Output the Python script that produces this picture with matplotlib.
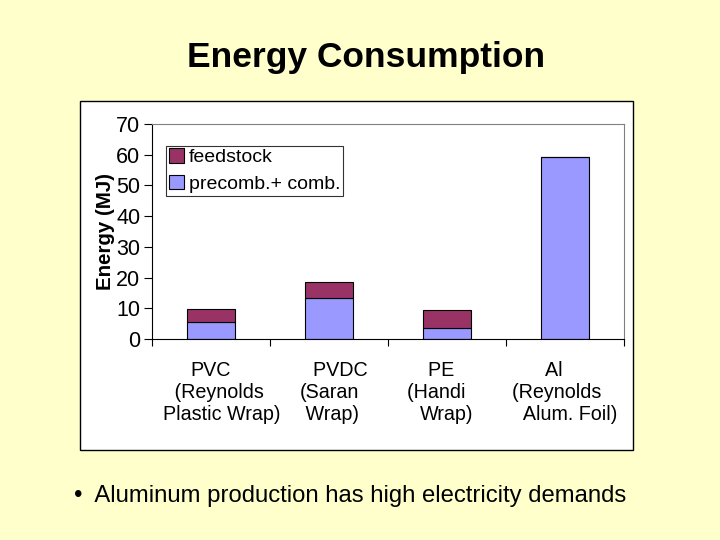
import numpy as np
import matplotlib.pyplot as plt
from matplotlib.patches import Rectangle

plt.rcParams['font.family'] = ['Liberation Sans', 'DejaVu Sans']

# spaces only nudge the lines the way the slide had them
categories = ['PVC\n   (Reynolds\n    Plastic Wrap)',
              '    PVDC\n(Saran\n Wrap)',
              'PE  \n(Handi    \nWrap)',
              'Al    \n(Reynolds   \n  Alum. Foil)']
precomb = [5.6, 13.4, 3.5, 59.3]
feedstock = [4.3, 5.3, 6.0, 0.0]

bg = '#FFFFCC'
fig = plt.figure(figsize=(7.2, 5.4), dpi=100, facecolor=bg)

# white chart frame, behind the axes
fig.patches.append(Rectangle((80 / 720, 1 - 450 / 540), 553 / 720, 349 / 540,
                             transform=fig.transFigure, facecolor='white',
                             edgecolor='black', linewidth=1.0, zorder=-1))

fig.text(366 / 720, 1 - 58 / 540, 'Energy Consumption', ha='center', va='center',
         fontsize=25.5, fontweight='bold')
fig.text(74 / 720, 1 - 496 / 540, '\u2022  Aluminum production has high electricity demands',
         ha='left', va='center', fontsize=17.2)

ax = fig.add_axes([152 / 720, 1 - 339 / 540, 472 / 720, 215 / 540])
ax.set_facecolor('white')

x = np.arange(len(categories))
w = 0.4
ax.bar(x, precomb, w, color='#9999FF', edgecolor='black', linewidth=0.8,
       label='precomb.+ comb.', zorder=2)
ax.bar(x, feedstock, w, bottom=precomb, color='#993366', edgecolor='black',
       linewidth=0.8, label='feedstock', zorder=2)

ax.set_xlim(-0.5, len(categories) - 0.5)
ax.set_ylim(0, 70)
ax.set_yticks(range(0, 71, 10))
ax.tick_params(axis='y', direction='out', length=6, labelsize=15.5, pad=2.5)

ax.set_xticks(np.arange(-0.5, len(categories), 1.0))
ax.set_xticklabels([])
ax.tick_params(axis='x', direction='out', length=5)
ax.set_xticks(x, minor=True)
ax.set_xticklabels(categories, minor=True, fontsize=14.2, linespacing=1.2)
ax.tick_params(axis='x', which='minor', length=0, pad=16)

for s in ['top', 'right']:
    ax.spines[s].set_color('#808080')
for s in ['left', 'bottom']:
    ax.spines[s].set_color('black')

ax.set_ylabel('Energy (MJ)', fontsize=14.8, fontweight='bold', labelpad=1)

h, l = ax.get_legend_handles_labels()
leg = ax.legend(h[::-1], l[::-1], loc='upper left', bbox_to_anchor=(0.03, 0.9),
                fontsize=14, frameon=True, fancybox=False, edgecolor='black',
                handlelength=0.75, handleheight=0.75, handletextpad=0.25,
                borderpad=0.15, labelspacing=0.45, borderaxespad=0)
leg.get_frame().set_linewidth(0.8)

fig.savefig('out.png', dpi=100, facecolor=bg)
